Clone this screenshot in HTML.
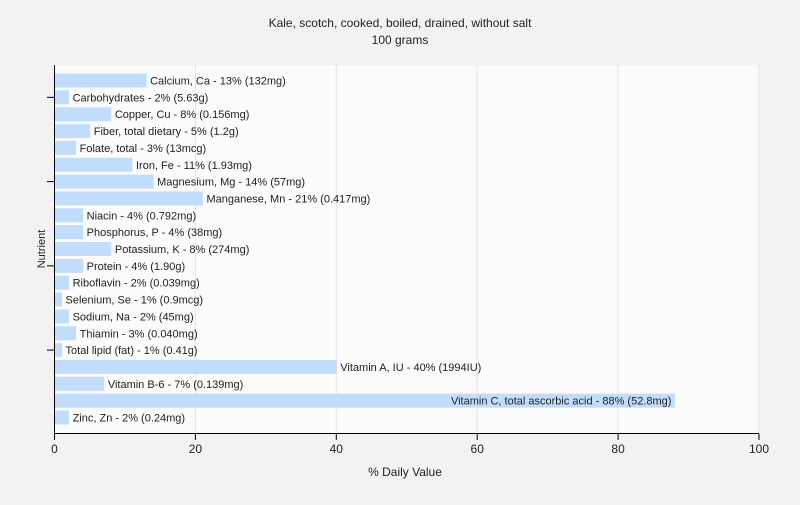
<!DOCTYPE html>
<html><head><meta charset="utf-8"><style>
body{margin:0;background:#f2f2f2;font-family:"Liberation Sans",sans-serif;}
svg text{font-family:"Liberation Sans",sans-serif;}
</style></head><body>
<svg id="c" width="800" height="500" xmlns="http://www.w3.org/2000/svg">
<rect width="800" height="500" fill="#f2f2f2"/>
<text x="400" y="27" text-anchor="middle" font-size="12" fill="#222">Kale, scotch, cooked, boiled, drained, without salt</text>
<text x="400" y="44" text-anchor="middle" font-size="12" fill="#222">100 grams</text>
<rect x="54" y="65" width="705" height="369" fill="#fbfbfb"/>
<g id="grid"></g><g id="bars"></g><g id="axes"></g>
<text x="405" y="476" text-anchor="middle" font-size="12" fill="#222">% Daily Value</text>
<text transform="translate(45,249) rotate(-90)" text-anchor="middle" font-size="11" fill="#222">Nutrient</text>
</svg>
<script>
const labels=["Calcium, Ca - 13% (132mg)","Carbohydrates - 2% (5.63g)","Copper, Cu - 8% (0.156mg)","Fiber, total dietary - 5% (1.2g)","Folate, total - 3% (13mcg)","Iron, Fe - 11% (1.93mg)","Magnesium, Mg - 14% (57mg)","Manganese, Mn - 21% (0.417mg)","Niacin - 4% (0.792mg)","Phosphorus, P - 4% (38mg)","Potassium, K - 8% (274mg)","Protein - 4% (1.90g)","Riboflavin - 2% (0.039mg)","Selenium, Se - 1% (0.9mcg)","Sodium, Na - 2% (45mg)","Thiamin - 3% (0.040mg)","Total lipid (fat) - 1% (0.41g)","Vitamin A, IU - 40% (1994IU)","Vitamin B-6 - 7% (0.139mg)","Vitamin C, total ascorbic acid - 88% (52.8mg)","Zinc, Zn - 2% (0.24mg)"];
const values=[13,2,8,5,3,11,14,21,4,4,8,4,2,1,2,3,1,40,7,88,2];
const xTicks=[0,20,40,60,80,100];
const NS="http://www.w3.org/2000/svg";
const x0=54.5,x1=759,yTop=73.5,step=16.85,bh=14;
const xs=v=>x0+(x1-x0)*v/100;
const yc=i=>yTop+step*i+bh/2;
function mk(t,a,p){const e=document.createElementNS(NS,t);for(const k in a)e.setAttribute(k,a[k]);p.appendChild(e);return e;}
const grid=document.getElementById('grid'),bars=document.getElementById('bars'),axes=document.getElementById('axes');
xTicks.forEach(t=>{
  if(t>0){const g=mk('line',{x1:xs(t),x2:xs(t),y1:65,y2:434,stroke:'#e4e4e4'},grid);
  
  }
  const tk=mk('line',{x1:xs(t),x2:xs(t),y1:434,y2:440,stroke:'#000'},axes);
  
  
  const tx=mk('text',{x:xs(t),y:453,'text-anchor':'middle','font-size':12,fill:'#222'},axes);
  tx.textContent=t;
  
  
});
values.forEach((v,i)=>{
  const w=xs(v)-x0;
  const r=mk('rect',{x:x0+0.5,y:yc(i)-bh/2,width:w,height:bh,fill:'#c2dcfb'},bars);
  
  
  const inside=v>60;
  const t=mk('text',{x:inside?xs(v)-3:xs(v)+4,y:yc(i)+4,'text-anchor':inside?'end':'start','font-size':11,fill:'#222'},bars);
  t.textContent=labels[i];
  
  
});
[1,6,11,16].forEach(i=>{
  const l=mk('line',{x1:47,x2:54.5,y1:yc(i),y2:yc(i),stroke:'#000'},axes);
  
  
});
const ya=mk('line',{x1:x0,x2:x0,y1:65,y2:434,stroke:'#000'},axes);


const xa=mk('line',{x1:x0,x2:x1,y1:433.5,y2:433.5,stroke:'#000'},axes);


</script>
</body></html>
